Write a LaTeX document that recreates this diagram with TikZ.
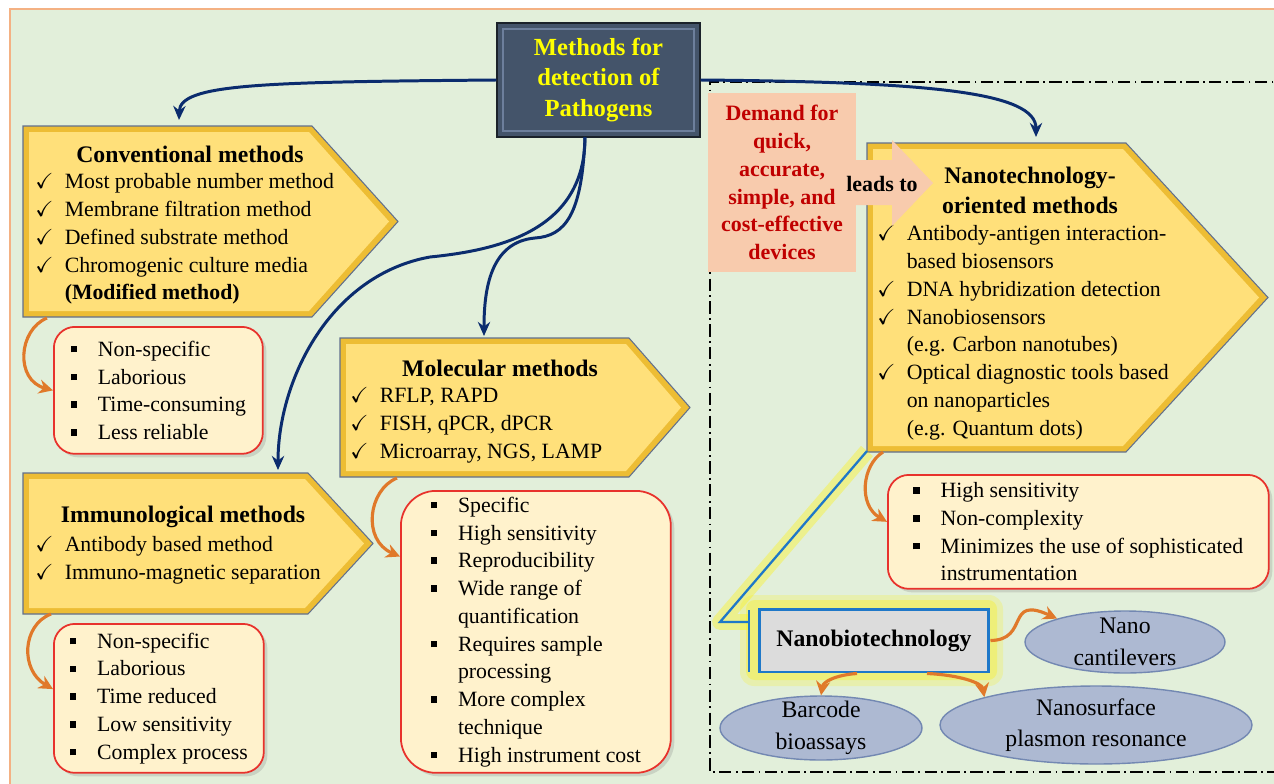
\documentclass[tikz,border=0pt]{standalone}
\usepackage{amssymb}
\usepackage{fontspec}
\setmainfont{Liberation Serif}
\usetikzlibrary{shapes.geometric,arrows.meta,shadows,calc}

\definecolor{bggreen}{HTML}{E2EFDA}
\definecolor{frameorange}{HTML}{F4B183}
\definecolor{slatebox}{HTML}{44546A}
\definecolor{slateedge}{HTML}{6D7F9C}
\definecolor{navyline}{HTML}{0B2C6E}
\definecolor{goldedge}{HTML}{EDBD34}
\definecolor{goldface}{HTML}{FFE07A}
\definecolor{paneldraw}{HTML}{61708E}
\definecolor{consfill}{HTML}{FFF2CC}
\definecolor{consred}{HTML}{E8322C}
\definecolor{salmon}{HTML}{F8CBAD}
\definecolor{demandred}{HTML}{C00000}
\definecolor{linkorange}{HTML}{E0792A}
\definecolor{ovalfill}{HTML}{ADB9D2}
\definecolor{ovaldraw}{HTML}{7388B2}
\definecolor{nbtblue}{HTML}{1F78C8}
\definecolor{nbtgray}{HTML}{DCDCDC}
\definecolor{titleyellow}{HTML}{FFFF00}

\newcommand{\ck}{\makebox[1.35em][l]{$\checkmark$}}
\newcommand{\bl}{\makebox[1.25em][l]{\rule[0.18em]{0.3em}{0.3em}}}
\newcommand{\ckgap}{\hspace*{1.35em}}
\newcommand{\blgap}{\hspace*{1.25em}}

% arrow-shaped panel: left, top, right of body, tip, bottom
\newcommand{\methodpanel}[5]{%
  \filldraw[panelouter] (#1,#2) -- (#3,#2) -- (#4,{(#2+#5)/2}) -- (#3,#5) -- (#1,#5) -- cycle;
  \fill[panelinner] ({#1+6},{#2+6}) -- ({#3-3},{#2+6}) -- ({#4-9},{(#2+#5)/2}) -- ({#3-3},{#5-6}) -- ({#1+6},{#5-6}) -- cycle;}

\tikzset{
  panelouter/.style={fill=goldedge, draw=paneldraw, line width=0.6pt},
  panelinner/.style={fill=goldface},
  paneltitle/.style={font=\fontsize{13.5}{17}\selectfont\bfseries, align=center, inner sep=0pt},
  listtext/.style={font=\fontsize{12.4}{15.8}\selectfont, align=left, inner sep=0pt, anchor=north west},
  consbox/.style={draw=consred, line width=1pt, fill=consfill, rounded corners=12pt,
    font=\fontsize{12.4}{15.8}\selectfont, align=left, inner sep=0pt, anchor=north west,
    drop shadow={opacity=0.25, shadow xshift=2pt, shadow yshift=-2pt}},
  flowarrow/.style={draw=navyline, line width=1.7pt, -{Stealth[length=8pt,width=7pt]}},
  linkarrow/.style={draw=linkorange, line width=1.8pt, -{Stealth[length=8pt,width=8pt]}},
  techoval/.style={ellipse, fill=ovalfill, draw=ovaldraw, line width=0.8pt,
    font=\fontsize{13.5}{18}\selectfont, align=center, inner xsep=0pt, inner ysep=-5pt},
  bracketline/.style={draw=nbtblue, line width=1.3pt},
}

\begin{document}
\begin{tikzpicture}[x=0.02cm,y=-0.02cm]

% page and frame
\useasboundingbox (0,0) rectangle (1274,784);
\clip (0,0) rectangle (1274,784);
\fill[white] (0,0) rectangle (1274,784);
\filldraw[fill=bggreen, draw=frameorange, line width=1pt] (10,9) rectangle (1290,800);

% nanotechnology region
\draw[line width=0.8pt, dash pattern=on 7pt off 2.5pt on 1pt off 2.5pt] (1290,82) -- (710,82) -- (710,772) -- (1290,772);

% main title
\node[fill=slatebox, draw=black!60!slatebox, line width=0.8pt, minimum width=4.06cm, minimum height=2.28cm,
  text=titleyellow, font=\fontsize{14}{17.6}\selectfont\bfseries, align=center] (title) at (598.5,80)
  {Methods for\\detection of\\Pathogens};
\draw[slateedge, line width=1pt] ($(title.north west)+(7,7)$) rectangle ($(title.south east)+(-7,-7)$);

% method panels
\methodpanel{23}{126}{312}{398}{317}
\methodpanel{340}{338}{629}{690}{477}
\methodpanel{23}{473}{308}{373}{614}
\methodpanel{867}{143}{1126}{1268}{452}

\coordinate (convtop) at (179,120);
\coordinate (moltop) at (484,336);
\coordinate (immtop) at (278,470);
\coordinate (nanotop) at (1036,137);
\coordinate (titlefoot) at (585,137);
\coordinate (convfoot) at (47,318);
\coordinate (molfoot) at (397,478);
\coordinate (immfoot) at (51,614);
\coordinate (nanofoot) at (883,452);
\coordinate (nanocorner) at (867,451);

% conventional
\node[paneltitle] (convtitle) at (190,154) {Conventional methods};
\node[listtext] (convlist) at (35,169) {\strut\ck Most probable number method\\
  \ck Membrane filtration method\\
  \ck Defined substrate method\\
  \ck Chromogenic culture media\\
  \ckgap\textbf{(Modified method)}};
\node[consbox, minimum width=4.18cm, minimum height=2.54cm] (convcons) at (53,326)
  {\bl Non-specific\\ \bl Laborious\\ \bl Time-consuming\\ \bl Less reliable};

% molecular
\node[paneltitle] (moltitle) at (500,368) {Molecular methods};
\node[listtext] (mollist) at (350,383) {\strut\ck RFLP, RAPD\\
  \ck FISH, qPCR, dPCR\\
  \ck Microarray, NGS, LAMP};
\node[consbox, rounded corners=20pt, minimum width=5.4cm, minimum height=5.64cm] (molpros) at (400,490)
  {\bl Specific\\ \bl High sensitivity\\ \bl Reproducibility\\ \bl Wide range of\\ \blgap quantification\\
   \bl Requires sample\\ \blgap processing\\ \bl More complex\\ \blgap technique\\ \bl High instrument cost};

% immunological
\node[paneltitle] (immtitle) at (183,517) {Immunological methods};
\node[listtext] (immlist) at (35,532) {\strut\ck Antibody based method\\
  \ck Immuno-magnetic separation};
\node[consbox, minimum width=4.2cm, minimum height=2.98cm] (immcons) at (53,623)
  {\bl Non-specific\\ \bl Laborious\\ \bl Time reduced\\ \bl Low sensitivity\\ \bl Complex process};

% nanotechnology
\node[paneltitle] (nanotitle) at (1030,190) {Nanotechnology-\\oriented methods};
\node[listtext] (nanolist) at (877,221) {\strut\ck Antibody-antigen interaction-\\
  \ckgap based biosensors\\
  \ck DNA hybridization detection\\
  \ck Nanobiosensors\\
  \ckgap (e.g. Carbon nanotubes)\\
  \ck Optical diagnostic tools based\\
  \ckgap on nanoparticles\\
  \ckgap (e.g. Quantum dots)};
\node[consbox, minimum width=7.62cm, minimum height=2.28cm] (nanopros) at (887,474)
  {\bl High sensitivity\\ \bl Non-complexity\\ \bl Minimizes the use of sophisticated\\ \blgap instrumentation};

% demand
\fill[salmon] (853,160) -- (892,160) -- (892,140) -- (933,183) -- (892,226) -- (892,205) -- (853,205) -- cycle;
\node[fill=salmon, minimum width=2.96cm, minimum height=3.58cm, text=demandred,
  font=\fontsize{12.5}{15.8}\selectfont\bfseries, align=center] (demand) at (782,182.5)
  {Demand for\\quick,\\accurate,\\simple, and\\cost-effective\\devices};
\node[font=\fontsize{12.5}{15}\selectfont\bfseries] (leads) at (882,184) {leads to};

% nanobiotechnology
\draw[yellow, opacity=0.35, line width=9pt, line join=round] (nanocorner) -- (720,622) -- (749,622);
\fill[yellow, opacity=0.2, rounded corners=8pt] (740,595) rectangle (1003,686);
\fill[yellow, opacity=0.3, rounded corners=5pt] (746,600) rectangle (997,680);
\draw[bracketline] (nanocorner) -- (720,622) -- (749,622);
\draw[bracketline] (749,610) -- (749,672);
\node[fill=nbtgray, draw=nbtblue, line width=1.7pt, minimum width=4.6cm, minimum height=1.26cm,
  font=\fontsize{13.5}{17}\selectfont\bfseries] (nbt) at (874,640.5) {Nanobiotechnology};

\node[techoval, minimum width=4cm, minimum height=1.24cm] (cant) at (1125,642) {Nano\\cantilevers};
\node[techoval, minimum width=4.04cm, minimum height=1.28cm] (bar) at (821,728) {Barcode\\bioassays};
\node[techoval, minimum width=6.24cm, minimum height=1.56cm] (surf) at (1096,725) {Nanosurface\\plasmon resonance};

% connectors
\draw[flowarrow] (title.west) .. controls (260,82) and (180,84) .. (convtop);
\draw[flowarrow] (title.east) .. controls (930,82) and (1036,92) .. (nanotop);
\draw[flowarrow] (titlefoot) .. controls (585,230) and (500,250) .. (430,257) .. controls (330,275) and (278,380) .. (immtop);
\draw[flowarrow] (titlefoot) .. controls (582,215) and (565,236) .. (535,238) .. controls (490,242) and (484,290) .. (moltop);

\draw[linkarrow] (convfoot) .. controls (18,330) and (15,380) .. (convcons.west);
\draw[linkarrow] (molfoot) .. controls (368,490) and (362,540) .. (molpros.151);
\draw[linkarrow] (immfoot) .. controls (22,625) and (20,670) .. (immcons.175);
\draw[linkarrow] (nanofoot) .. controls (862,465) and (858,505) .. (nanopros.177);

\draw[linkarrow] (nbt.east) .. controls (1030,640) and (1005,595) .. (cant.161);
\draw[linkarrow] ($(nbt.south)+(-17,0)$) .. controls (835,675) and (823,682) .. (bar.north);
\draw[linkarrow] ($(nbt.south)+(53,0)$) .. controls (960,675) and (982,683) .. (surf.166);

\end{tikzpicture}
\end{document}
